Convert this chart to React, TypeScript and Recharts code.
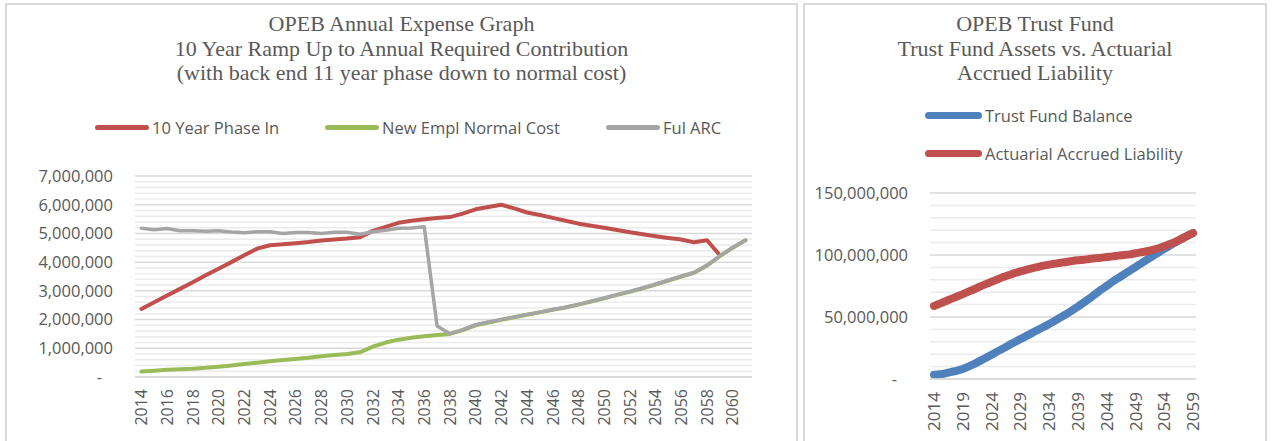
import React from "react";
import { LineChart, Line, XAxis, YAxis, CartesianGrid, ReferenceLine } from "recharts";

// ---- OPEB Annual Expense (left chart) ----
const expenseYears = [
  2014, 2015, 2016, 2017, 2018, 2019, 2020, 2021, 2022, 2023, 2024, 2025,
  2026, 2027, 2028, 2029, 2030, 2031, 2032, 2033, 2034, 2035, 2036, 2037,
  2038, 2039, 2040, 2041, 2042, 2043, 2044, 2045, 2046, 2047, 2048, 2049,
  2050, 2051, 2052, 2053, 2054, 2055, 2056, 2057, 2058, 2059, 2060, 2061,
];
const phaseIn = [
  2370000, 2600000, 2840000, 3070000, 3300000, 3540000, 3770000, 4000000, 4240000, 4470000, 4590000, 4620000,
  4660000, 4700000, 4750000, 4790000, 4820000, 4870000, 5090000, 5230000, 5370000, 5440000, 5490000, 5540000,
  5570000, 5690000, 5840000, 5920000, 6000000, 5870000, 5730000, 5640000, 5540000, 5440000, 5340000, 5270000,
  5200000, 5120000, 5040000, 4970000, 4900000, 4840000, 4790000, 4690000, 4760000, 4240000, null, null,
];
const normalCost = [
  190000, 220000, 250000, 270000, 290000, 320000, 360000, 400000, 450000, 500000, 550000, 590000,
  630000, 670000, 720000, 770000, 800000, 860000, 1060000, 1200000, 1300000, 1370000, 1420000, 1460000,
  1500000, 1630000, 1800000, 1900000, 1990000, 2080000, 2170000, 2250000, 2340000, 2420000, 2520000, 2630000,
  2740000, 2860000, 2970000, 3090000, 3220000, 3360000, 3500000, 3630000, 3880000, 4210000, 4500000, 4760000,
];
const fullArc = [
  5180000, 5130000, 5170000, 5090000, 5090000, 5080000, 5090000, 5050000, 5020000, 5060000, 5060000, 5000000,
  5030000, 5030000, 5000000, 5040000, 5040000, 4970000, 5060000, 5110000, 5180000, 5190000, 5230000, 1780000,
  1510000, 1650000, 1820000, 1920000, 2000000, 2090000, 2180000, 2260000, 2350000, 2430000, 2530000, 2640000,
  2750000, 2870000, 2980000, 3100000, 3230000, 3370000, 3510000, 3640000, 3890000, 4220000, 4510000, 4770000,
];
const expenseTicks = [0, 1000000, 2000000, 3000000, 4000000, 5000000, 6000000, 7000000];
const expenseMinor = [
  200000, 400000, 600000, 800000, 1200000, 1400000, 1600000, 1800000, 2200000, 2400000, 2600000, 2800000,
  3200000, 3400000, 3600000, 3800000, 4200000, 4400000, 4600000, 4800000, 5200000, 5400000, 5600000, 5800000,
  6200000, 6400000, 6600000, 6800000,
];

// ---- OPEB Trust Fund (right chart) ----
const trustYears = [
  2014, 2015, 2016, 2017, 2018, 2019, 2020, 2021, 2022, 2023, 2024, 2025,
  2026, 2027, 2028, 2029, 2030, 2031, 2032, 2033, 2034, 2035, 2036, 2037,
  2038, 2039, 2040, 2041, 2042, 2043, 2044, 2045, 2046, 2047, 2048, 2049,
  2050, 2051, 2052, 2053, 2054, 2055, 2056, 2057, 2058, 2059,
];
const trustBalance = [
  3500000, 3800000, 4600000, 5700000, 6800000, 8100000, 10000000, 12200000, 14600000, 17000000, 19500000, 22200000,
  24600000, 27300000, 29700000, 32200000, 34600000, 37000000, 39500000, 41900000, 44300000, 47000000, 49700000, 52400000,
  55400000, 58400000, 61600000, 64900000, 68400000, 71900000, 75100000, 78400000, 81400000, 84300000, 87300000, 90300000,
  93200000, 96200000, 99200000, 101900000, 104900000, 107600000, 110300000, 113000000, 115400000, 117600000,
];
const accruedLiability = [
  58900000, 60800000, 62700000, 64600000, 66500000, 68400000, 70500000, 72400000, 74600000, 76500000, 78400000, 80300000,
  82200000, 83800000, 85400000, 86800000, 88100000, 89200000, 90300000, 91400000, 92200000, 93000000, 93800000, 94400000,
  95100000, 95700000, 96200000, 96800000, 97300000, 97800000, 98400000, 98900000, 99500000, 100000000, 100500000, 101400000,
  102200000, 103000000, 104100000, 105400000, 107000000, 108900000, 110800000, 113000000, 115400000, 117600000,
];
const trustTicks = [0, 50000000, 100000000, 150000000];
const trustMinor = [
  10000000, 20000000, 30000000, 40000000, 60000000, 70000000, 80000000, 90000000,
  110000000, 120000000, 130000000, 140000000,
];

const expenseData = expenseYears.map((year, i) => ({
  year: String(year),
  phaseIn: phaseIn[i],
  normalCost: normalCost[i],
  fullArc: fullArc[i],
}));

const trustData = trustYears.map((year, i) => ({
  year: String(year),
  balance: trustBalance[i],
  liability: accruedLiability[i],
}));

const TEXT = "#595959";
const SANS = "'Open Sans', sans-serif";
const SERIF = "'Liberation Serif', serif";
const MINOR = "#ebebeb";

// y tick: accounting style, zero shown as a dash
const YTick = ({ x, y, payload }: any) => {
  const zero = payload.value === 0;
  return (
    <text
      x={zero ? x - 11 : x}
      y={y}
      dy="0.355em"
      textAnchor="end"
      fill={TEXT}
      fontSize={16.5}
      fontFamily={SANS}
    >
      {zero ? "-" : Number(payload.value).toLocaleString("en-US")}
    </text>
  );
};

// rotated year labels
const makeXTick = (size: number) => ({ x, y, payload }: any) => (
  <text
    x={x}
    y={y}
    dy="0.36em"
    textAnchor="end"
    transform={`rotate(-90, ${x}, ${y})`}
    fill={TEXT}
    fontSize={size}
    fontFamily={SANS}
  >
    {payload.value}
  </text>
);

const LegendKey = ({ left, top, color, label, len, thick }: any) => (
  <div style={{ position: "absolute", left, top, display: "flex", alignItems: "center", height: 24 }}>
    <div style={{ width: len, height: thick, background: color, borderRadius: thick / 2 }} />
    <span style={{ marginLeft: 3, fontFamily: SANS, fontSize: 16.5, color: TEXT, whiteSpace: "nowrap" }}>{label}</span>
  </div>
);

const titleStyle: React.CSSProperties = {
  position: "absolute",
  textAlign: "center",
  fontFamily: SERIF,
  fontSize: 22,
  lineHeight: "24.5px",
  color: TEXT,
};

export default function App() {
  return (
    <div style={{ position: "absolute", left: 0, top: 0, width: 1272, height: 441, background: "#fff", overflow: "hidden" }}>
      {/* panel borders */}
      <div style={{ position: "absolute", left: 5, top: 3, width: 793, height: 440, border: "2px solid #d9d9d9", boxSizing: "border-box" }} />
      <div style={{ position: "absolute", left: 803, top: 3, width: 464, height: 440, border: "2px solid #d9d9d9", boxSizing: "border-box" }} />

      {/* left chart */}
      <div style={{ ...titleStyle, left: 5, width: 793, top: 12 }}>
        OPEB Annual Expense Graph
        <br />
        10 Year Ramp Up to Annual Required Contribution
        <br />
        (with back end 11 year phase down to normal cost)
      </div>
      <LegendKey left={95} top={115} color="#C0504D" label="10 Year Phase In" len={54} thick={5} />
      <LegendKey left={325} top={115} color="#9BBB59" label="New Empl Normal Cost" len={54} thick={5} />
      <LegendKey left={606} top={115} color="#A5A5A5" label="Ful ARC" len={54} thick={5} />
      <div style={{ position: "absolute", left: 0, top: 0 }}>
        <LineChart width={800} height={441} data={expenseData} margin={{ top: 176, right: 48, bottom: 0, left: 0 }}>
          {expenseMinor.map((v) => (
            <ReferenceLine key={v} y={v} stroke={MINOR} strokeWidth={1.5} />
          ))}
          <CartesianGrid vertical={false} stroke="#d9d9d9" strokeWidth={1.5} />
          <XAxis
            dataKey="year"
            interval={1}
            height={64}
            tickLine={false}
            tickSize={0}
            tickMargin={12}
            axisLine={{ stroke: "#d9d9d9", strokeWidth: 1.5 }}
            padding={{ left: 6.4, right: 6.4 }}
            tick={makeXTick(16)}
          />
          <YAxis
            width={135}
            domain={[0, 7000000]}
            ticks={expenseTicks}
            axisLine={false}
            tickLine={false}
            tickSize={0}
            tickMargin={22}
            tick={<YTick />}
          />
          <Line type="linear" dataKey="phaseIn" stroke="#C0504D" strokeWidth={4} dot={false} strokeLinecap="round" strokeLinejoin="round" isAnimationActive={false} />
          <Line type="linear" dataKey="normalCost" stroke="#9BBB59" strokeWidth={4} dot={false} strokeLinecap="round" strokeLinejoin="round" isAnimationActive={false} />
          <Line type="linear" dataKey="fullArc" stroke="#A5A5A5" strokeWidth={3.5} dot={false} strokeLinecap="round" strokeLinejoin="round" isAnimationActive={false} />
        </LineChart>
      </div>

      {/* right chart */}
      <div style={{ ...titleStyle, left: 803, width: 464, top: 12 }}>
        OPEB Trust Fund
        <br />
        Trust Fund Assets vs. Actuarial
        <br />
        Accrued Liability
      </div>
      <LegendKey left={925} top={103} color="#4F81BD" label="Trust Fund Balance" len={57} thick={7} />
      <LegendKey left={925} top={141} color="#C0504D" label="Actuarial Accrued Liability" len={57} thick={7} />
      <div style={{ position: "absolute", left: 800, top: 0 }}>
        <LineChart width={472} height={441} data={trustData} margin={{ top: 193, right: 76, bottom: 0, left: 0 }}>
          {trustMinor.map((v) => (
            <ReferenceLine key={v} y={v} stroke={MINOR} strokeWidth={1.5} />
          ))}
          <CartesianGrid vertical={false} stroke="#d9d9d9" strokeWidth={1.5} />
          <XAxis
            dataKey="year"
            interval={4}
            height={62}
            tickLine={false}
            tickSize={0}
            tickMargin={13}
            axisLine={{ stroke: "#d9d9d9", strokeWidth: 1.5 }}
            padding={{ left: 4, right: 3 }}
            tick={makeXTick(17)}
          />
          <YAxis
            width={130}
            domain={[0, 150000000]}
            ticks={trustTicks}
            axisLine={false}
            tickLine={false}
            tickSize={0}
            tickMargin={22}
            tick={<YTick />}
          />
          <Line type="monotone" dataKey="balance" stroke="#4F81BD" strokeWidth={8} dot={false} strokeLinecap="round" isAnimationActive={false} />
          <Line type="monotone" dataKey="liability" stroke="#C0504D" strokeWidth={8} dot={false} strokeLinecap="round" isAnimationActive={false} />
        </LineChart>
      </div>
    </div>
  );
}
